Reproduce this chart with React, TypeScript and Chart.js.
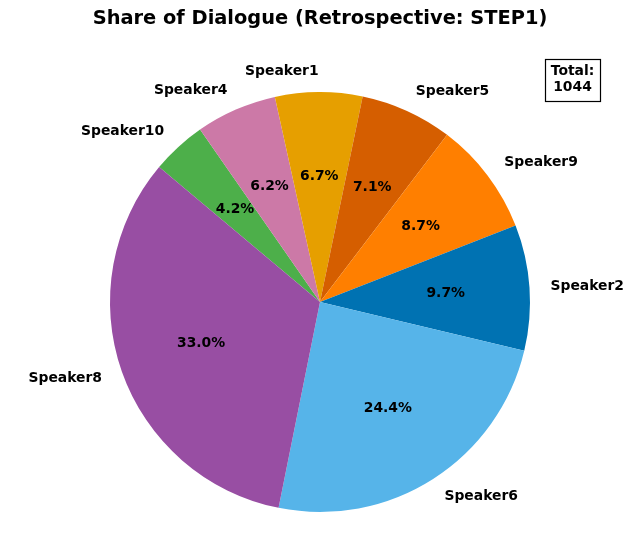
import React, { useEffect, useRef } from "react";
import { Chart, registerables } from "chart.js";

Chart.register(...registerables);

// Original (matplotlib, counter-clockwise from 140°) order
const speakers = ["Speaker8", "Speaker6", "Speaker2", "Speaker9", "Speaker5", "Speaker1", "Speaker4", "Speaker10"];
const counts = [344, 255, 101, 91, 74, 70, 65, 44];
const colors = ["#984EA3", "#56B4E9", "#0072B2", "#FF7F00", "#D55E00", "#E69F00", "#CC79A7", "#4DAF4A"];
const titleText = "Share of Dialogue (Retrospective: STEP1)";
const totalLines = ["Total:", "1044"];

const FONT = "'DejaVu Sans', sans-serif";

export default function App() {
  const ref = useRef<HTMLCanvasElement | null>(null);

  useEffect(() => {
    if (!ref.current) return;
    // Chart.js draws clockwise, so reverse to match counter-clockwise layout
    const labels = [...speakers].reverse();
    const data = [...counts].reverse();
    const bg = [...colors].reverse();
    const total = counts.reduce((a, b) => a + b, 0);

    const textPlugin = {
      id: "textPlugin",
      afterDraw(chart: any) {
        const ctx = chart.ctx as CanvasRenderingContext2D;
        const meta = chart.getDatasetMeta(0);
        ctx.save();
        // Title
        ctx.fillStyle = "#000";
        ctx.font = `bold 19.4px ${FONT}`;
        ctx.textAlign = "center";
        ctx.textBaseline = "middle";
        ctx.fillText(titleText, 320, 19);

        meta.data.forEach((arc: any, i: number) => {
          const { x, y, startAngle, endAngle, outerRadius } = arc.getProps(
            ["x", "y", "startAngle", "endAngle", "outerRadius"],
            true
          );
          const mid = (startAngle + endAngle) / 2;
          const c = Math.cos(mid);
          const s = Math.sin(mid);
          ctx.font = `bold 13.9px ${FONT}`;
          ctx.textBaseline = "middle";
          // percent
          const pct = ((data[i] / total) * 100).toFixed(1) + "%";
          ctx.textAlign = "center";
          ctx.fillText(pct, x + c * outerRadius * 0.6, y + s * outerRadius * 0.6);
          // label
          const lx = x + c * outerRadius * 1.1;
          const ly = y + s * outerRadius * 1.1;
          ctx.textAlign = c >= 0 ? "left" : "right";
          ctx.fillText(labels[i], lx, ly);
        });

        // Total box
        const bx = 545, by = 59, bw = 55, bh = 42;
        ctx.fillStyle = "#fff";
        ctx.fillRect(bx, by, bw, bh);
        ctx.strokeStyle = "#000";
        ctx.lineWidth = 1.2;
        ctx.strokeRect(bx + 0.5, by + 0.5, bw, bh);
        ctx.fillStyle = "#000";
        ctx.font = `bold 13.9px ${FONT}`;
        ctx.textAlign = "center";
        ctx.textBaseline = "middle";
        ctx.fillText(totalLines[0], 572.5, 71);
        ctx.fillText(totalLines[1], 572.5, 87.5);
        ctx.restore();
      },
    };

    const chart = new Chart(ref.current, {
      type: "pie",
      data: {
        labels,
        datasets: [
          {
            data,
            backgroundColor: bg,
            borderWidth: 0,
            hoverOffset: 0,
            offset: 0,
          },
        ],
      },
      options: {
        animation: false,
        responsive: false,
        rotation: -50,
        layout: { padding: { left: 110, right: 110, top: 92, bottom: 31 } },
        plugins: {
          legend: { display: false },
          tooltip: { enabled: false },
          title: { display: false },
        },
        events: [],
      },
      plugins: [textPlugin],
    } as any);
    return () => chart.destroy();
  }, []);

  return (
    <div style={{ position: "absolute", left: 0, top: 0, width: 640, height: 543, background: "#fff" }}>
      <canvas ref={ref} width={640} height={543} style={{ width: 640, height: 543 }} />
    </div>
  );
}
